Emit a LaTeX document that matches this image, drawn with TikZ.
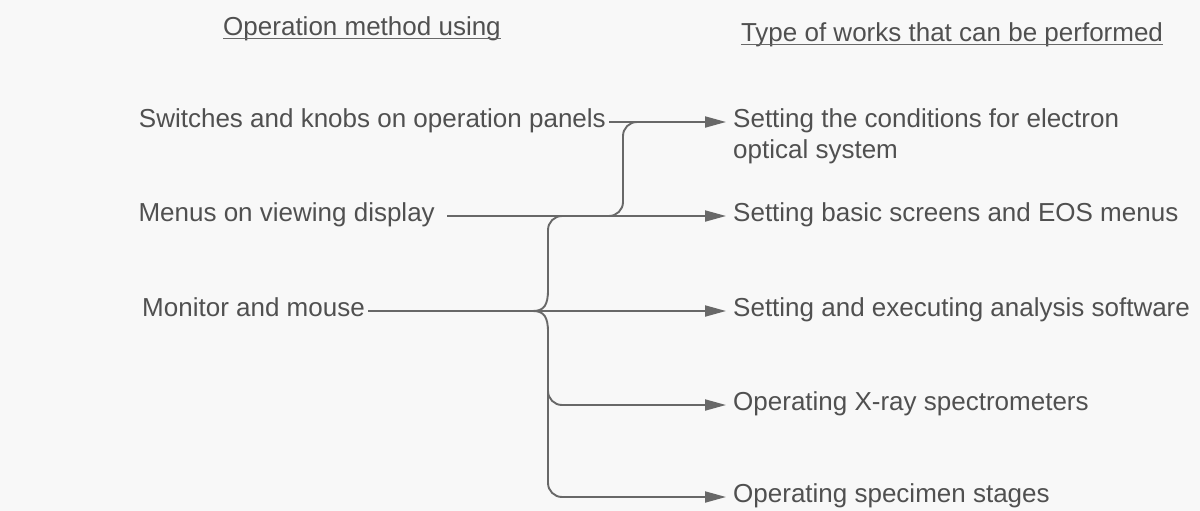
\documentclass[tikz,border=0pt]{standalone}
\usepackage{fontspec}
\setmainfont{Liberation Sans}
\usetikzlibrary{arrows.meta}
\definecolor{txt}{HTML}{505050}
\definecolor{ln}{HTML}{686868}
\definecolor{bg}{HTML}{F8F8F8}
\begin{document}
\begin{tikzpicture}[x=1pt,y=-1pt,
  lbl/.style={font=\fontsize{26}{30}\selectfont, text=txt, inner xsep=3pt, inner ysep=0pt, text height=10.8pt, text depth=0pt},
  rlbl/.style={lbl, inner xsep=7pt, anchor=west},
  head/.style={font=\fontsize{26}{30}\selectfont, text=txt, inner sep=0pt, anchor=base},
  uline/.style={draw=ln, line width=0.9pt},
  conn/.style={draw=ln, line width=1.9pt},
  arr/.style={conn, -{Triangle[length=21pt,width=11pt]}},
]
\fill[bg] (0,0) rectangle (1200,511);
\useasboundingbox (0,0) rectangle (1200,511);

% headers
\node[head] (h1) at (362,36) {Operation method using};
\node[head] (h2) at (952,42) {Type of works that can be performed};
\draw[uline] ([yshift=-2pt]h1.base west) -- ([yshift=-2pt]h1.base east);
\draw[uline] ([yshift=-2pt]h2.base west) -- ([yshift=-2pt]h2.base east);

% left labels
\node[lbl, anchor=east] (sw) at (609,122) {Switches and knobs on operation panels};
\node[lbl, anchor=east] (mn) at (438,216) {Menus on viewing display};
\node[lbl, anchor=east] (mo) at (368,311) {Monitor and mouse};

% right labels
\node[rlbl] (t1) at (726,122) {Setting the conditions for electron};
\node[rlbl] (t1b) at ([yshift=-31pt]t1.west) {optical system};
\node[rlbl] (t2) at (726,216) {Setting basic screens and EOS menus};
\node[rlbl] (t3) at (726,311) {Setting and executing analysis software};
\node[rlbl] (t4) at (726,405) {Operating X-ray spectrometers};
\node[rlbl] (t5) at (726,497) {Operating specimen stages};

% main arrows
\draw[arr] (sw.east) -- (t1.west);
\draw[arr] ([xshift=9pt]mn.east) -- (t2.west);
\draw[arr] (mo.east) -- (t3.west);

% S connector between first two lines
\coordinate (s1) at (648,122);
\coordinate (s2) at (600,216);
\draw[conn, rounded corners=14pt] (s1) -- (623,122) -- (623,216) -- (s2);

% brace
\coordinate (b0) at (575,216);
\coordinate (bu) at (548,290);
\coordinate (tip) at (533,311);
\coordinate (bl) at (548,332);
\coordinate (bm) at (548,370);
\draw[conn, rounded corners=14pt] (b0) -- (548,216) -- (bu);
\draw[conn] (bu) .. controls (548,305) and (544,311) .. (tip) .. controls (544,311) and (548,317) .. (bl);
\draw[arr, rounded corners=14pt] (bl) -- (548,405) -- (t4.west);
\draw[arr, rounded corners=14pt] (bm) -- (548,497) -- (t5.west);
\end{tikzpicture}
\end{document}
